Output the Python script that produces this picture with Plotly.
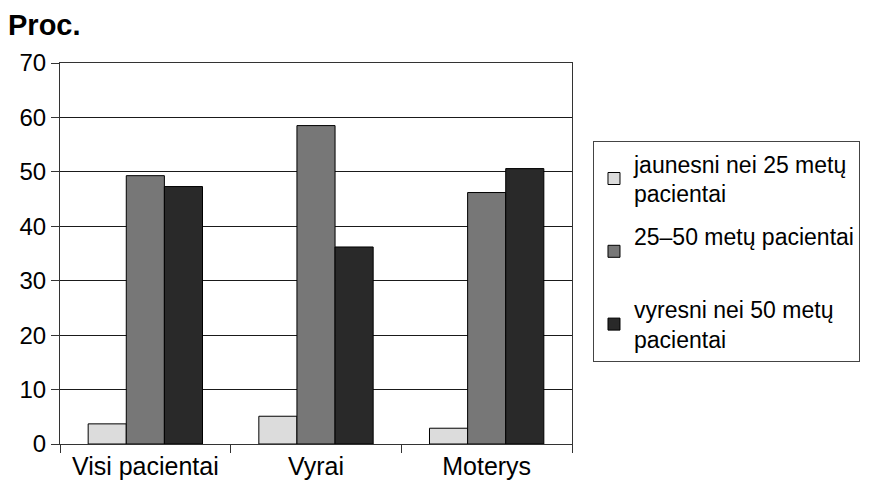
import plotly.graph_objects as go

categories = ["Visi pacientai", "Vyrai", "Moterys"]
series_names = ["jaunesni nei 25 metų<br>pacientai", "25–50 metų pacientai<br> ", "vyresni nei 50 metų<br>pacientai"]
young = [3.7, 5.1, 2.9]
middle = [49.3, 58.5, 46.2]
older = [47.3, 36.2, 50.6]
y_ticks = [0, 10, 20, 30, 40, 50, 60, 70]

colors = ["#dcdcdc", "#777777", "#292929"]
values = [young, middle, older]

fig = go.Figure()
for i, (name, vals, col) in enumerate(zip(series_names, values, colors)):
    fig.add_trace(go.Bar(
        x=categories, y=vals, name=name,
        marker=dict(color=col, line=dict(color="#000000", width=1)),
        legendgroup=f"g{i}",
    ))

# page body has an 8px offset, so margins are shifted up-left by 8px
fig.update_layout(
    width=880, height=483,
    margin=dict(l=52, r=316, t=55, b=47, autoexpand=False),
    paper_bgcolor="white", plot_bgcolor="white",
    barmode="group", bargap=0.33, bargroupgap=0,
    font=dict(family="Liberation Sans, Arial, sans-serif", color="#000000", size=22),
    legend=dict(
        x=1.041, y=0.795, xanchor="left", yanchor="top",
        bordercolor="#444444", borderwidth=1,
        font=dict(size=23), tracegroupgap=10,
        traceorder="grouped", itemwidth=30,
    ),
    showlegend=True,
    annotations=[dict(
        text="<b>Proc.</b>", xref="paper", yref="paper",
        x=-54/512, y=(444-25)/381, xanchor="left", yanchor="middle",
        showarrow=False, font=dict(size=29, color="#000000"),
    )],
)

fig.update_yaxes(
    range=[0, 70], tickvals=y_ticks, ticktext=[str(v) for v in y_ticks],
    showgrid=True, gridcolor="#1a1a1a", gridwidth=1,
    showline=True, linecolor="#333333", linewidth=1, mirror=True,
    ticks="outside", ticklen=8, tickcolor="#333333",
    tickfont=dict(size=24), zeroline=False, automargin=False,
)
fig.update_xaxes(
    showline=True, linecolor="#333333", linewidth=1, mirror=True,
    ticks="outside", ticklen=8, tickcolor="#333333", tickson="boundaries",
    tickfont=dict(size=25), automargin=False,
)

fig.write_html("out.html")
